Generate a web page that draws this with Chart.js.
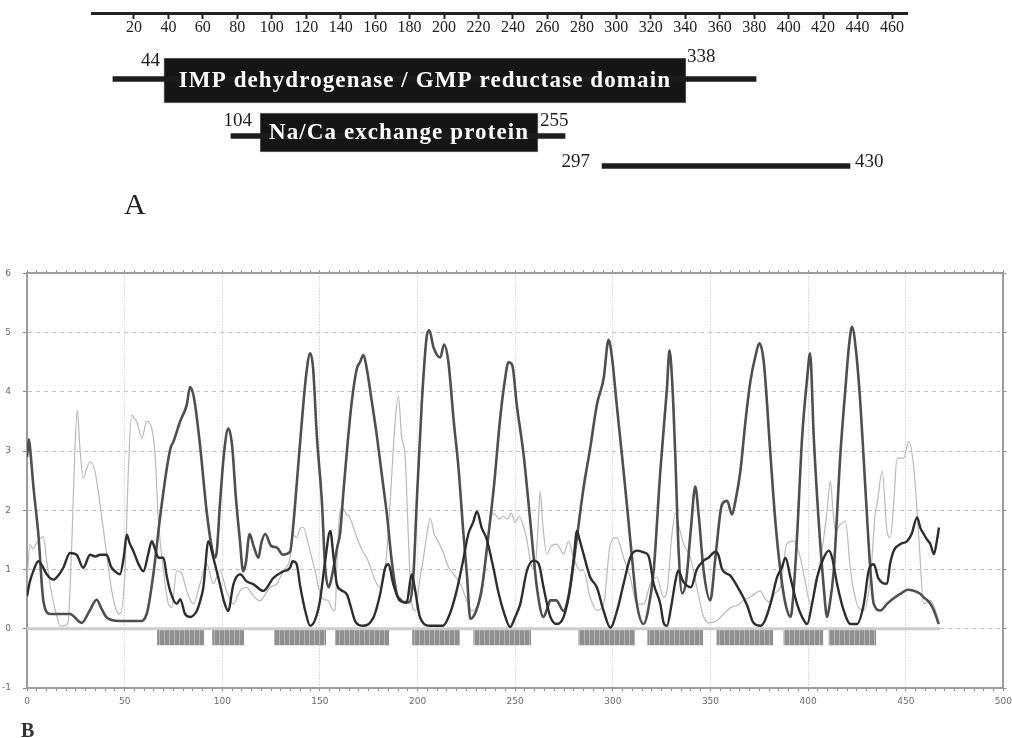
<!DOCTYPE html>
<html>
<head>
<meta charset="utf-8">
<title>Domain map and hydropathy profile</title>
<script src="https://cdn.jsdelivr.net/npm/chart.js@4.4.0/dist/chart.umd.min.js"></script>
<style>
  body { margin: 0; background: #fff; }
  #page { position: relative; width: 1012px; height: 738px; overflow: hidden; }
  #mapChart { position: absolute; left: 0; top: 0; }
  #profileChart { position: absolute; left: 0; top: 256px; }
  .panel { position: absolute; font-family: "Liberation Serif", "DejaVu Serif", serif; line-height: 1; }
  #labelA { left: 124px; top: 189px; font-size: 30px; color: #1e1e1e; }
  #labelB { left: 21px; top: 720px; font-size: 20px; font-weight: bold; color: #333; }
</style>
</head>
<body>
<div id="page">
  <canvas id="mapChart" width="1012" height="230"></canvas>
  <div class="panel" id="labelA">A</div>
  <canvas id="profileChart" width="1017" height="482"></canvas>
  <div class="panel" id="labelB">B</div>
</div>
<script>
/*global Chart, document*/

// ------------------------------------------------------- //
// Data : panel A (domain map, residue positions)
// ------------------------------------------------------ //
var rulerTicks = [20, 40, 60, 80, 100, 120, 140, 160, 180, 200, 220, 240, 260, 280, 300, 320, 340, 360, 380, 400, 420, 440, 460];
var domainNames = ['IMP dehydrogenase / GMP reductase domain', 'Na/Ca exchange protein'];
var domainBoxes = [[37.4, 340.4], [93.2, 254.5]];
var domainLines = [[7.8, 381.1], [76.3, 270.2], [291.7, 435.6]];
var domainLabels = [['44', '338'], ['104', '255'], ['297', '430']];

// ------------------------------------------------------- //
// Data : panel B (profile curves, residue / value)
// ------------------------------------------------------ //
var profileTicksX = [0, 50, 100, 150, 200, 250, 300, 350, 400, 450, 500];
var profileTicksY = [-1, 0, 1, 2, 3, 4, 5, 6];

var seriesPeaks = [[0,2.9],[1,3.2],[2,2.9],[3.2,2.43],[5.8,1.6],[8.4,0.47],[11.8,0.25],[18.6,0.25],[22,0.25],[28,0.1],[32,0.3],[35.7,0.49],[38,0.35],[40.8,0.19],[47.6,0.13],[57.9,0.13],[61.3,0.25],[64.7,0.92],[68.1,1.87],[71.6,2.71],[73.5,3.05],[75,3.16],[78.4,3.5],[81.8,3.78],[83.5,4.08],[85.5,3.9],[88.6,3.1],[92,1.98],[94.5,1.4],[96.3,1.2],[97.2,1.31],[98.9,2.15],[101,3.0],[103.1,3.38],[105,3.1],[107,2.2],[109,1.5],[110.7,0.97],[112,1.1],[114,1.6],[116,1.4],[118.5,1.2],[120,1.45],[122,1.6],[125,1.4],[128,1.37],[131,1.25],[134.7,1.3],[136.5,1.8],[138.5,2.6],[141,3.6],[143,4.3],[145,4.65],[146.5,4.4],[148.4,3.27],[151,2.15],[152.7,1.03],[154.5,0.7],[156.5,0.95],[159,1.4],[160.3,1.6],[162,2.3],[163.8,2.99],[166.3,3.83],[168.9,4.39],[170.5,4.5],[172.3,4.62],[174,4.39],[176.6,3.83],[179.1,3.27],[181.7,2.6],[184.3,1.93],[186.8,1.14],[189.4,0.58],[191,0.5],[193,0.45],[196,0.45],[197.9,0.92],[199.6,2.15],[202.2,3.83],[204.8,4.96],[206,5.04],[208.2,4.75],[211.6,4.58],[213.6,4.8],[215.8,4.5],[218.4,3.55],[221,2.7],[223.5,1.6],[225.3,0.9],[227,0.17],[230,0.3],[233,0.7],[236,1.5],[239,2.37],[242.3,3.55],[244.5,4.15],[246.6,4.5],[248.5,4.45],[250.8,3.78],[254.3,2.94],[257.7,1.82],[261.1,0.7],[264.5,0.2],[266.5,0.35],[268,0.48],[271,0.48],[274.8,0.3],[277,0.5],[279,0.9],[281.6,1.54],[285,2.38],[288.4,3.05],[291.8,3.78],[295.3,4.23],[297.8,4.88],[299.5,4.6],[302,3.78],[305.5,2.66],[308,1.82],[309.8,1.2],[312.3,0.42],[315.8,0.08],[318,0.3],[320.9,0.98],[324.3,2.66],[327.7,4.06],[329,4.7],[330.5,4.1],[332,2.9],[333.7,1.3],[335.5,0.6],[337.5,0.8],[340,1.7],[342.2,2.4],[344,1.9],[346.5,0.98],[349.9,0.48],[352.5,1.2],[355.9,2.1],[358.5,2.16],[361,1.93],[363,2.2],[365.3,2.66],[367.9,3.5],[370.4,4.17],[373,4.6],[375,4.82],[377.3,4.5],[380.7,2.94],[383.2,1.82],[385.8,0.98],[388.4,0.42],[391,0.2],[392.5,0.6],[394.3,1.54],[396.9,3.22],[399.5,4.23],[401,4.65],[402.9,3.22],[405.4,1.82],[408,0.7],[409.7,0.2],[411,0.4],[413.1,0.98],[416.5,2.94],[419.1,4.06],[421,4.8],[422.5,5.1],[424.5,4.7],[426.8,3.78],[429.3,2.38],[431.9,0.98],[433.6,0.42],[437,0.31],[440.4,0.42],[444,0.52],[447.3,0.59],[451,0.66],[454.1,0.64],[457,0.6],[459.2,0.53],[462,0.45],[464.4,0.31],[466.9,0.08]];

var seriesDark = [[0,0.55],[1.5,0.8],[3.2,0.97],[5.8,1.14],[7.5,1.08],[10.1,0.92],[13.5,0.83],[16,0.9],[18.6,1.03],[22,1.28],[25.4,1.25],[28.8,1.03],[32.3,1.25],[35,1.22],[37.4,1.25],[40.8,1.25],[43,1.05],[45.1,0.97],[47.6,0.92],[49.5,1.2],[51.1,1.59],[52.5,1.45],[54.5,1.31],[57,1.1],[59.6,0.97],[62,1.25],[63.9,1.48],[65.5,1.35],[67.3,1.2],[69.9,1.2],[71.5,0.9],[73.3,0.64],[76.7,0.42],[78.5,0.5],[80.9,0.25],[83.5,0.2],[86.9,0.3],[88.5,0.45],[90.3,0.7],[92.9,1.48],[95.4,1.2],[98.8,0.75],[101,0.45],[103,0.3],[105.7,0.75],[109.1,0.92],[112.5,0.8],[116,0.75],[121,0.64],[126.2,0.86],[131.3,0.97],[134.7,1.03],[136,1.14],[138,1.1],[140,0.7],[142.5,0.3],[145,0.05],[147.5,0.15],[150,0.47],[152.5,1.1],[155.3,1.65],[157,1.2],[158.7,0.75],[161,0.65],[163.8,0.58],[166,0.35],[168,0.13],[172.3,0.05],[177.4,0.19],[180.8,0.58],[183.4,1.03],[185.1,1.09],[187.6,0.75],[191,0.47],[194.4,0.44],[197,0.92],[198.5,0.7],[201.3,0.19],[206.5,0.05],[213,0.05],[216.5,0.25],[220,0.64],[223,1.1],[226,1.6],[228.5,1.8],[230.4,1.98],[232.9,1.7],[235,1.55],[236.3,1.4],[239,1.0],[241.5,0.6],[244,0.3],[247.4,0.03],[250,0.2],[252.6,0.42],[256,0.98],[259.4,1.15],[262,1.1],[264.5,0.7],[268,0.2],[271.3,0.08],[274.8,0.2],[278.2,0.7],[280,1.2],[281.6,1.65],[283,1.5],[285,1.26],[288.4,0.87],[291.8,0.7],[295.3,0.3],[298.7,0.02],[302.1,0.3],[305.5,0.76],[308.9,1.2],[312.3,1.32],[315.8,1.29],[318.3,1.23],[320.9,0.76],[324.3,0.42],[326,0.1],[327.7,0.05],[330,0.4],[332,0.8],[333.5,0.98],[336,0.8],[340,0.7],[343,1.0],[346.5,1.15],[349,1.2],[352.5,1.3],[354,1.25],[356,1.0],[360,0.9],[364,0.7],[368.7,0.4],[372,0.1],[375.6,0.05],[378,0.15],[380.7,0.42],[384.1,0.87],[386.6,1.04],[388.4,1.2],[390.9,0.87],[394.3,0.42],[396.9,0.2],[399.5,0.08],[402,0.42],[404.6,0.87],[408,1.2],[410.6,1.32],[412.3,1.2],[414.8,0.76],[418.2,0.31],[421.7,0.08],[425,0.08],[428.5,0.42],[431,0.98],[433.6,1.09],[436,0.85],[440.4,0.76],[442,1.1],[443.9,1.32],[447.3,1.43],[450.7,1.48],[453,1.6],[455.8,1.88],[457.5,1.7],[459.2,1.6],[461,1.5],[462.6,1.43],[464.4,1.26],[466,1.5],[467,1.71]];

var seriesLight = [[0,0.8],[1.5,1.42],[3,1.35],[5,1.45],[8.4,1.55],[10,1.17],[11.8,0.75],[13.5,0.45],[15,0.25],[17,0.05],[19,0.05],[21,0.1],[23,1.5],[24.5,3.0],[25.8,3.69],[27,3.1],[28.8,2.54],[30.5,2.7],[32.3,2.82],[34.8,2.66],[37.4,2.1],[40.8,1.26],[43.4,0.64],[45.9,0.3],[47.6,0.25],[50.2,0.98],[51.9,2.66],[53.6,3.61],[55,3.55],[56.2,3.5],[58.8,3.22],[61.3,3.5],[63.9,3.38],[65.6,2.94],[67.3,1.82],[69.9,0.98],[72.4,0.42],[74.1,0.36],[76.7,0.98],[79.3,0.93],[81.8,0.64],[85.2,0.42],[88.6,0.76],[92,1.1],[95.4,0.76],[98.8,0.98],[102.2,0.64],[105.7,0.42],[109.1,0.64],[112.5,0.7],[116,0.55],[119.3,0.47],[121,0.53],[124.5,0.7],[127.9,0.76],[131.3,0.98],[134.7,1.2],[136,1.59],[138.1,1.54],[140,1.7],[141.5,1.71],[144.1,1.43],[145.8,1.2],[147.5,0.98],[150.1,0.59],[152,0.5],[154.4,0.47],[156,0.35],[157.8,0.3],[158.6,1.0],[160,1.9],[161.5,2.04],[163.7,1.93],[165,1.9],[168.9,1.54],[172,1.3],[174,1.2],[179.1,0.76],[181,0.7],[183,0.9],[184.5,1.4],[185.9,2.1],[188.5,3.5],[190.2,3.92],[191.9,3.22],[193.6,2.94],[195.3,1.54],[197,0.42],[199,0.3],[201,0.8],[203,1.2],[204.8,1.6],[206.5,1.87],[208.5,1.6],[210.5,1.48],[213,1.3],[216,1.03],[219,0.9],[222,0.75],[225,0.5],[228,0.3],[231,0.4],[233,0.6],[235,1.2],[237,1.8],[239,1.95],[242,1.85],[244,1.9],[246,1.85],[248,1.95],[250,1.8],[252,1.9],[254.5,1.7],[256,1.5],[258,1.1],[260,1.0],[261.5,1.6],[262.8,2.32],[264,1.8],[266.2,1.26],[268.5,1.4],[271.3,1.43],[274.8,1.26],[277.3,1.48],[279.9,1.2],[283.3,0.98],[285,0.98],[288.4,0.53],[291.8,0.31],[295.3,0.42],[298.7,1.43],[302,1.54],[305.5,1.2],[308.9,0.87],[312.3,0.42],[315.8,0.42],[319.2,0.76],[322.6,0.87],[326,0.53],[328,0.7],[330,1.5],[332,1.95],[334,1.7],[336.3,1.43],[339.7,1.2],[343,0.7],[346.5,0.2],[350,0.1],[353.3,0.14],[356.8,0.25],[360,0.35],[364,0.4],[367,0.48],[371,0.55],[375.5,0.64],[378,0.5],[381,0.45],[383,0.6],[385.8,0.7],[389,1.43],[392.6,1.48],[396,1.2],[398.5,0.8],[401.2,0.42],[404,0.7],[406,1.1],[408,1.54],[409.7,2.0],[411.4,2.49],[412.7,2.0],[414,1.65],[416.5,1.76],[419.1,1.82],[421.7,0.98],[425,0.42],[428.5,0.31],[431.9,0.87],[434.5,1.99],[435.3,2.1],[437.9,2.66],[440.4,1.65],[442.1,1.54],[444,2.2],[445.5,2.88],[448.9,2.88],[451.5,3.16],[454.1,2.72],[456.7,1.54],[459.2,0.42],[462.6,0.48],[465.2,0.31],[466.9,0.08]];

// predicted transmembrane segments (start, end)
var tmSegments = [[66.6, 90.7], [94.8, 111.2], [126.5, 153.2], [157.8, 185.5], [197.2, 221.8], [228.5, 258.2], [282.3, 311.5], [317.6, 346.3], [353, 382.2], [387.3, 407.8], [410.4, 434.9]];
var tmBand = [-0.02, -0.28];
var baselineSpan = [0, 467.5];

// ------------------------------------------------------- //
// Layout (pixels / style only)
// ------------------------------------------------------ //
var SERIF = '"Liberation Serif", "DejaVu Serif", serif';
var RULER_Y = 13;
var LINE_ROWS_Y = [79, 136, 166];
var BOX_ROWS_Y = [80.5, 132.5];
var BOX_HEIGHTS = [45, 39];
var LABEL_GAP = [[4, 1], [8, 2], [12, 5]];
var LABEL_DY = [[3.5, -1], [8, 8.5], [-4, -4]];

function toPoints(pairs) {
    return pairs.map(function (p) { return {x: p[0], y: p[1]}; });
}

// ------------------------------------------------------- //
// Panel A : domain map
// ------------------------------------------------------ //
var mapLabels = {
    id: 'mapLabels',
    afterDatasetsDraw: function (chart) {
        var ctx = chart.ctx;
        var lineBars = chart.getDatasetMeta(0).data;
        ctx.save();
        ctx.textBaseline = 'middle';

        // names inside the black boxes
        ctx.fillStyle = '#ffffff';
        ctx.font = 'bold 23px ' + SERIF;
        ctx.letterSpacing = '1.1px';
        ctx.textAlign = 'center';
        for (var b = 0; b < domainBoxes.length; b++) {
            var box = chart.getDatasetMeta(b + 1).data[0];
            ctx.fillText(domainNames[b], (box.x + box.base) / 2, box.y + 1);
        }
        ctx.letterSpacing = '0px';

        // start / end residue numbers
        ctx.fillStyle = '#1e1e1e';
        ctx.font = '19px ' + SERIF;
        for (var i = 0; i < domainLabels.length; i++) {
            var ref = i < domainBoxes.length ? chart.getDatasetMeta(i + 1).data[0] : lineBars[i];
            var left = Math.min(ref.x, ref.base);
            var right = Math.max(ref.x, ref.base);
            var anchor = i < domainBoxes.length ? ref.y - ref.height / 2 : ref.y;
            ctx.textAlign = 'right';
            ctx.fillText(domainLabels[i][0], left - LABEL_GAP[i][0], anchor + LABEL_DY[i][0]);
            ctx.textAlign = 'left';
            ctx.fillText(domainLabels[i][1], right + LABEL_GAP[i][1], anchor + LABEL_DY[i][1]);
        }
        ctx.restore();
    }
};

var mapDatasets = [{
    label: 'regions',
    data: domainLines.map(function (r, i) { return {x: r, y: LINE_ROWS_Y[i]}; }),
    backgroundColor: '#1c1c1c',
    borderWidth: 0,
    barThickness: 5,
    grouped: false
}];
domainBoxes.forEach(function (r, i) {
    mapDatasets.push({
        label: domainNames[i],
        data: [{x: r, y: BOX_ROWS_Y[i]}],
        backgroundColor: '#151515',
        borderColor: '#6a6a6a',
        borderWidth: 1,
        borderSkipped: false,
        barThickness: BOX_HEIGHTS[i],
        grouped: false
    });
});

var MAPCHART = document.getElementById('mapChart');
var myMapChart = new Chart(MAPCHART, {
    type: 'bar',
    data: {datasets: mapDatasets},
    options: {
        indexAxis: 'y',
        responsive: false,
        animation: false,
        devicePixelRatio: 1,
        layout: {padding: {left: 92, right: 105, top: 0, bottom: 0}},
        plugins: {legend: {display: false}, tooltip: {enabled: false}},
        scales: {
            x: {
                type: 'linear',
                min: -4.35,
                max: 468.7,
                position: {y: RULER_Y},
                afterBuildTicks: function (axis) {
                    axis.ticks = rulerTicks.map(function (v) { return {value: v}; });
                },
                ticks: {
                    autoSkip: false,
                    maxRotation: 0,
                    padding: 1,
                    color: '#222',
                    font: {family: SERIF, size: 16}
                },
                grid: {drawOnChartArea: false, drawTicks: true, tickLength: 4, tickWidth: 2, tickColor: '#222'},
                border: {display: true, color: '#222', width: 3}
            },
            y: {
                type: 'linear',
                min: 0,
                max: 230,
                reverse: true,
                offset: false,
                display: false
            }
        }
    },
    plugins: [mapLabels]
});

// ------------------------------------------------------- //
// Panel B : profile
// ------------------------------------------------------ //
function stripePattern() {
    var c = document.createElement('canvas');
    c.width = 5;
    c.height = 10;
    var g = c.getContext('2d');
    g.fillStyle = '#8f8f8f';
    g.fillRect(0, 0, 5, 10);
    g.fillStyle = '#b6b6b6';
    g.fillRect(4, 0, 1, 10);
    return g.createPattern(c, 'repeat');
}

var tmPoints = [];
tmSegments.forEach(function (s) {
    tmPoints.push({x: s[0], y: tmBand[0]}, {x: s[1], y: tmBand[0]}, {x: s[1] + 0.01, y: null});
});

var hidden = 'rgba(0,0,0,0)';
var frame = '#9c9c9c';

var PROFILE = document.getElementById('profileChart');
var myProfileChart = new Chart(PROFILE, {
    type: 'line',
    data: {
        datasets: [
            {
                label: 'dark',
                data: toPoints(seriesDark),
                borderColor: '#2e2e2e',
                borderWidth: 2.4,
                pointRadius: 0,
                cubicInterpolationMode: 'monotone'
            },
            {
                label: 'peaks',
                data: toPoints(seriesPeaks),
                borderColor: '#4f4f4f',
                borderWidth: 2.6,
                pointRadius: 0,
                cubicInterpolationMode: 'monotone'
            },
            {
                label: 'light',
                data: toPoints(seriesLight),
                borderColor: '#b9b9b9',
                borderWidth: 1.2,
                pointRadius: 0,
                cubicInterpolationMode: 'monotone'
            },
            {
                label: 'baseline',
                data: [{x: baselineSpan[0], y: 0}, {x: baselineSpan[1], y: 0}],
                borderColor: '#cdcdcd',
                borderWidth: 3,
                pointRadius: 0
            },
            {
                label: 'TM segments',
                data: tmPoints,
                borderWidth: 0,
                pointRadius: 0,
                spanGaps: false,
                fill: {value: tmBand[1]},
                backgroundColor: stripePattern()
            }
        ]
    },
    options: {
        responsive: false,
        animation: false,
        devicePixelRatio: 1,
        layout: {padding: 0},
        plugins: {legend: {display: false}, tooltip: {enabled: false}},
        scales: {
            x: {
                type: 'linear',
                position: 'bottom',
                min: 0,
                max: 500,
                afterFit: function (axis) { axis.height = 50; },
                ticks: {
                    stepSize: 5,
                    autoSkip: false,
                    maxRotation: 0,
                    padding: 5,
                    color: '#6a6a6a',
                    font: {family: 'DejaVu Sans', size: 9},
                    callback: function (v) { return profileTicksX.indexOf(v) >= 0 ? String(v) : ''; }
                },
                grid: {
                    color: function (c) {
                        var v = c.tick ? c.tick.value : 0;
                        return (v % 50 === 0 && v > 0 && v < 500) ? '#bdbdbd' : hidden;
                    },
                    lineWidth: 1,
                    tickLength: 3,
                    tickWidth: 1,
                    tickColor: '#8a8a8a'
                },
                border: {display: true, color: frame, width: 2, dash: [1, 2]}
            },
            x2: {
                type: 'linear',
                position: 'top',
                min: 0,
                max: 500,
                afterFit: function (axis) { axis.height = 4; },
                ticks: {stepSize: 5, autoSkip: false, display: false},
                grid: {drawOnChartArea: false, tickLength: 3, tickWidth: 1, tickColor: '#8a8a8a'},
                border: {display: true, color: frame, width: 2}
            },
            y: {
                type: 'linear',
                position: 'left',
                min: -1,
                max: 6,
                afterFit: function (axis) { axis.width = 27; },
                afterBuildTicks: function (axis) {
                    axis.ticks = profileTicksY.map(function (v) { return {value: v}; });
                },
                ticks: {
                    padding: 12,
                    color: '#6a6a6a',
                    font: {family: 'DejaVu Sans', size: 9}
                },
                grid: {
                    color: function (c) {
                        var v = c.tick ? c.tick.value : -1;
                        return (v >= 0 && v <= 5) ? '#c2c2c2' : hidden;
                    },
                    lineWidth: 1,
                    tickLength: 4,
                    tickWidth: 1,
                    tickColor: '#8a8a8a'
                },
                border: {display: true, color: frame, width: 2, dash: [4, 4]}
            },
            y2: {
                type: 'linear',
                position: 'right',
                min: -1,
                max: 6,
                afterFit: function (axis) { axis.width = 4; },
                afterBuildTicks: function (axis) {
                    axis.ticks = profileTicksY.map(function (v) { return {value: v}; });
                },
                ticks: {display: false},
                grid: {drawOnChartArea: false, tickLength: 3, tickWidth: 1, tickColor: '#8a8a8a'},
                border: {display: true, color: frame, width: 2}
            }
        }
    }
});
</script>
</body>
</html>
